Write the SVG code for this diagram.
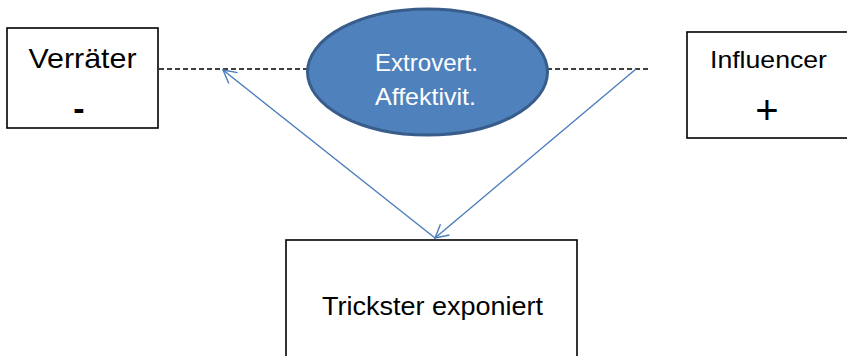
<svg xmlns="http://www.w3.org/2000/svg" width="847" height="356" viewBox="0 0 847 356">
<style>
.box{fill:#fff;stroke:#000;stroke-width:1.6}
.t{font-family:"Liberation Sans",Arial,sans-serif;fill:#000;text-anchor:middle}
.w{font-family:"Liberation Sans",Arial,sans-serif;fill:#fff;text-anchor:middle}
.dash{stroke:#000;stroke-width:1.5;stroke-dasharray:5 3;fill:none}
.arr{stroke:#4a7ebb;stroke-width:1.4;fill:none}
</style>
<defs>
<marker id="ah" markerWidth="18" markerHeight="18" refX="14" refY="8" orient="auto" markerUnits="userSpaceOnUse">
<path d="M1,1 L14,8 L1,15" fill="none" stroke="#4a7ebb" stroke-width="1.4"/>
</marker>
</defs>
<rect width="847" height="356" fill="#fff"/>
<g id="connectors">
<line class="dash" x1="159" y1="69" x2="309" y2="69"/>
<line class="dash" x1="547" y1="69" x2="650" y2="69"/>
<line class="arr" x1="435" y1="238" x2="223" y2="70" marker-end="url(#ah)"/>
<line class="arr" x1="636" y1="69" x2="435" y2="238" marker-end="url(#ah)"/>
</g>
<g id="verraeter">
<rect class="box" x="7" y="28" width="151" height="100"/>
<text class="t" x="82.5" y="68" font-size="28" textLength="108" lengthAdjust="spacingAndGlyphs">Verräter</text>
<text class="t" x="79" y="120" font-size="34" font-weight="bold">-</text>
</g>
<g id="ellipse">
<ellipse cx="427.5" cy="72" rx="120" ry="63" fill="#4f81bd" stroke="#385d8a" stroke-width="3"/>
<text class="w" x="426.5" y="71" font-size="24" textLength="103" lengthAdjust="spacingAndGlyphs">Extrovert.</text>
<text class="w" x="425.5" y="105" font-size="24" textLength="101" lengthAdjust="spacingAndGlyphs">Affektivit.</text>
</g>
<g id="influencer">
<rect class="box" x="687" y="32" width="170" height="106"/>
<text class="t" x="768.5" y="68" font-size="24" textLength="117" lengthAdjust="spacingAndGlyphs">Influencer</text>
<text class="t" x="767" y="124" font-size="40">+</text>
</g>
<g id="trickster">
<rect class="box" x="286" y="240" width="291" height="130"/>
<text class="t" x="432.5" y="315" font-size="25" textLength="221" lengthAdjust="spacingAndGlyphs">Trickster exponiert</text>
</g>
</svg>
